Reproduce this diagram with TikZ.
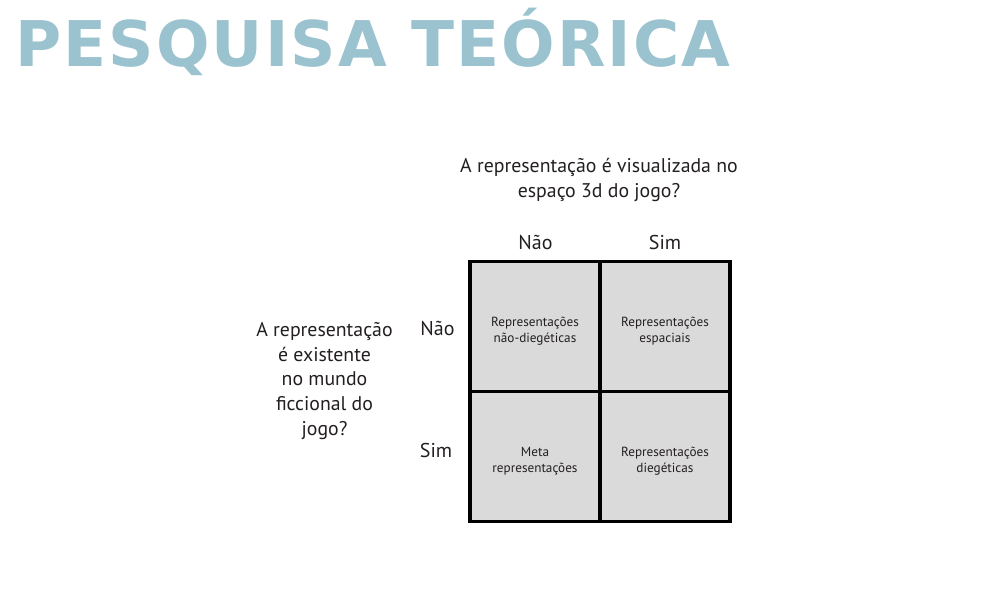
\documentclass[tikz,border=0pt]{standalone}
\usepackage{fontspec}
\usepackage{xcolor}
\setmainfont{PT Sans}
\newfontfamily\titlefont[LetterSpace=3.4]{DejaVu Sans Bold}
\usetikzlibrary{positioning}
\definecolor{titleblue}{HTML}{9BC3CF}
\definecolor{cellgray}{HTML}{DADADA}
\definecolor{ink}{HTML}{231F20}
\tikzstyle{cell} = [rectangle, minimum width=130pt, minimum height=130pt, draw=black, line width=3.5pt, fill=cellgray, inner sep=0pt]
\tikzstyle{celltext} = [align=center, text=ink, inner sep=0pt, font=\fontsize{13.2}{16}\selectfont]
\tikzstyle{question} = [align=center, text=ink, inner sep=0pt, font=\fontsize{19.8}{24.8}\selectfont]
\tikzstyle{answer} = [anchor=base, text=ink, inner sep=0pt, font=\fontsize{20}{24}\selectfont]

\begin{document}
\begin{tikzpicture}[x=1pt, y=-1pt, node distance=130pt]
   \useasboundingbox (0,0) rectangle (996,614);
   \node (title) [anchor=base west, text=titleblue, inner sep=0pt, font=\titlefont\fontsize{63}{70}\selectfont] at (15,66) {PESQUISA TEÓRICA};
   % grade 2x2
   \node (nn) [cell] at (535,326.5) {};
   \node (ns) [cell, right of=nn] {};
   \node (sn) [cell, below of=nn] {};
   \node (ss) [cell, below of=ns] {};
   \node (tnn) [celltext] at ([yshift=-5pt]nn.center) {Representações\\não-diegéticas};
   \node (tns) [celltext] at ([yshift=-5pt]ns.center) {Representações\\espaciais};
   \node (tsn) [celltext] at ([yshift=-5pt]sn.center) {Meta\\representações};
   \node (tss) [celltext] at ([yshift=-5pt]ss.center) {Representações\\diegéticas};
   % rotulos
   \node (cnao) [answer] at (535.5,249) {Não};
   \node (csim) [answer] at (665,249) {Sim};
   \node (lnao) [answer] at (437.5,335) {Não};
   \node (lsim) [answer] at (436,457) {Sim};
   \node (qtop) [question] at (599,180) {A representação é visualizada no\\espaço 3d do jogo?};
   \node (qleft) [question] at (324.5,381) {A representação\\é existente\\no mundo\\ficcional do\\jogo?};
\end{tikzpicture}
\end{document}
